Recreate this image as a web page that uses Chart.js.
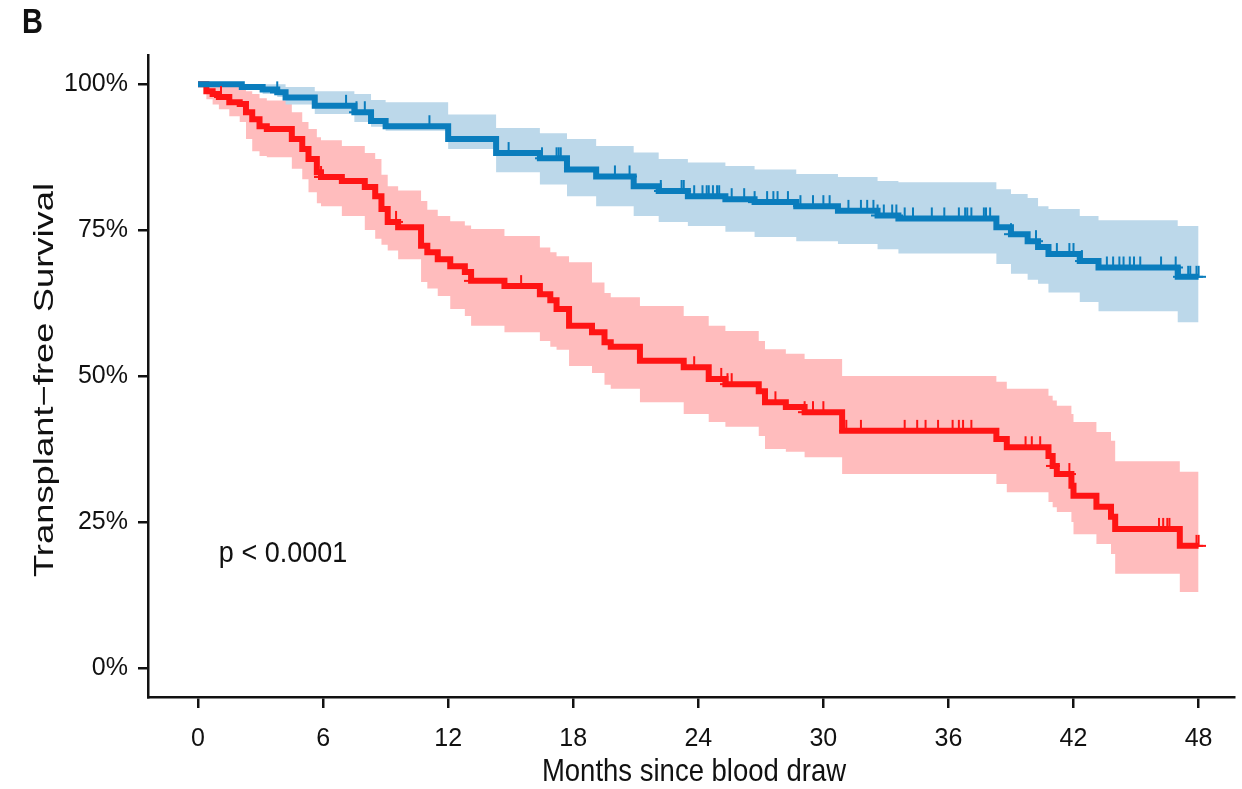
<!DOCTYPE html>
<html>
<head>
<meta charset="utf-8">
<script src="https://cdn.jsdelivr.net/npm/chart.js@4"></script>
<style>
  html, body { margin: 0; padding: 0; background: #fff; }
  #wrap { width: 1242px; height: 789px; position: relative; }
</style>
</head>
<body>
<div id="wrap"><canvas id="kmChart"></canvas></div>
<script>
// months since blood draw -> survival (%) for each group, with 95% CI
const blueTime  = [0, 2.1, 3.1, 3.8, 4.2, 5.6, 7.5, 8.3, 9.0, 12.0, 14.3, 16.4, 17.7, 19.1, 20.9, 22.1, 23.5, 25.3, 26.7, 28.7, 30.7, 32.6, 33.6, 38.3, 39.0, 39.8, 40.3, 40.8, 42.3, 43.2, 47.0, 48.0];
const blueSurv  = [100, 99.5, 99.1, 98.6, 97.7, 96.3, 95.2, 93.7, 92.8, 90.6, 88.2, 87.3, 85.4, 84.2, 82.5, 81.7, 80.8, 80.3, 79.8, 79.1, 78.3, 77.5, 77.0, 75.5, 74.3, 73.1, 72.1, 70.9, 69.7, 68.6, 67.0, 67.0];
const blueUpper = [100, 100, 100, 100, 99.5, 98.8, 98.3, 97.3, 96.9, 94.8, 92.5, 91.6, 90.6, 89.4, 88.3, 87.2, 86.6, 86.0, 85.4, 84.6, 84.1, 83.4, 83.2, 82.0, 81.2, 80.5, 79.1, 78.6, 77.4, 76.7, 75.7, 75.7];
const blueLower = [100, 99.0, 98.3, 97.8, 96.5, 94.9, 93.5, 92.7, 92.0, 88.9, 84.9, 82.8, 80.8, 79.1, 77.4, 76.4, 75.7, 74.7, 73.8, 73.1, 72.6, 71.7, 71.0, 69.2, 67.5, 66.5, 65.8, 64.3, 62.7, 61.1, 59.2, 59.2];
const blueCensor = [3.8, 7.1, 7.6, 8.0, 11.1, 14.9, 16.5, 17.2, 17.3, 17.4, 20.0, 20.7, 22.2, 23.2, 23.3, 23.8, 24.2, 24.4, 24.5, 24.7, 24.9, 25.0, 25.6, 26.2, 26.7, 27.3, 27.6, 27.8, 28.3, 28.9, 29.5, 30.0, 30.3, 31.2, 31.8, 32.1, 32.4, 32.6, 32.9, 33.3, 33.5, 33.9, 34.3, 35.2, 35.8, 36.5, 36.8, 36.9, 37.1, 37.7, 37.8, 38.0, 39.0, 40.2, 41.2, 41.8, 42.0, 42.4, 43.6, 43.9, 44.2, 44.4, 44.7, 44.9, 45.2, 46.2, 46.9, 47.1, 47.5, 47.6, 47.9, 48.0];

const redTime  = [0, 0.4, 0.7, 1.0, 1.5, 2.0, 2.3, 2.6, 2.95, 3.3, 4.5, 5.0, 5.3, 5.7, 5.9, 6.9, 8.0, 8.5, 8.8, 9.1, 9.6, 10.7, 11.0, 11.5, 12.1, 12.8, 13.1, 14.7, 16.4, 16.9, 17.2, 17.8, 18.9, 19.5, 19.8, 21.2, 23.3, 24.5, 25.3, 26.9, 27.2, 28.2, 29.1, 30.9, 38.3, 38.8, 40.8, 41.0, 41.2, 41.9, 42.0, 43.1, 43.8, 44.0, 47.1, 48.0];
const redSurv  = [100, 98.8, 98.3, 97.8, 96.9, 96.6, 95.2, 94.0, 92.8, 92.3, 90.6, 88.9, 87.2, 84.9, 84.1, 83.4, 82.4, 80.8, 78.6, 76.4, 75.5, 72.3, 71.2, 70.0, 68.8, 67.8, 66.3, 65.4, 64.0, 63.0, 61.5, 58.6, 57.5, 55.8, 55.0, 52.6, 51.5, 49.5, 48.6, 47.4, 45.5, 44.7, 43.8, 40.6, 39.2, 37.8, 36.3, 34.6, 33.2, 31.2, 29.5, 27.6, 25.9, 23.8, 20.9, 20.9];
const redUpper = [100, 100, 100, 99.7, 99.7, 99.3, 98.8, 98.3, 97.6, 97.2, 95.2, 93.5, 92.3, 90.9, 90.4, 89.4, 88.2, 87.2, 84.5, 82.5, 81.8, 80.0, 78.5, 77.4, 76.5, 75.8, 75.2, 74.0, 72.0, 71.2, 70.5, 69.5, 66.0, 64.2, 63.5, 62.0, 60.3, 58.6, 57.7, 56.0, 54.6, 53.8, 52.9, 50.0, 49.0, 47.8, 46.6, 45.8, 44.9, 43.5, 42.1, 40.4, 38.9, 35.4, 33.6, 33.6];
const redLower = [100, 97.4, 96.5, 95.7, 94.5, 93.5, 90.6, 88.5, 87.7, 87.5, 85.5, 83.7, 81.5, 79.6, 79.1, 77.4, 75.0, 73.5, 72.5, 71.5, 70.0, 66.1, 65.0, 63.7, 61.5, 60.3, 58.6, 57.5, 56.0, 55.0, 54.5, 51.7, 50.5, 48.5, 47.8, 45.5, 43.5, 42.1, 41.3, 39.7, 37.5, 37.0, 36.1, 33.2, 31.5, 30.1, 28.4, 27.5, 26.7, 25.0, 22.9, 21.2, 19.5, 16.1, 13.0, 13.0];
const redCensor = [1.1, 5.9, 9.5, 13.1, 15.5, 23.8, 25.1, 25.4, 25.6, 27.7, 29.1, 29.5, 30.0, 31.1, 31.8, 33.9, 34.5, 34.9, 35.5, 36.2, 36.5, 36.7, 37.1, 39.7, 40.0, 40.4, 41.0, 41.8, 46.1, 46.3, 46.5, 46.6, 47.9, 48.0];

const xTicks = [0, 6, 12, 18, 24, 30, 36, 42, 48];
const yTicks = [0, 25, 50, 75, 100];
const yTickLabels = ['0%', '25%', '50%', '75%', '100%'];

const panelLabel = 'B';
const pvalText = 'p < 0.0001';
const xTitle = 'Months since blood draw';
const yTitle = 'Transplant\u2212free Survival';

const BLUE = '#0a7dbd';
const BLUE_BAND = '#bcd8ea';
const RED = '#ff1414';
const RED_BAND = '#ffbcbd';

function fontExists(name) {
    const c = document.createElement('canvas').getContext('2d');
    const s = 'abcdefghij 0123456789%';
    c.font = '40px "' + name + '", monospace';
    const a = c.measureText(s).width;
    c.font = '40px monospace';
    return a !== c.measureText(s).width;
}

const narrow = fontExists('Liberation Sans Narrow');
const tickFont = narrow
    ? { family: '"Liberation Sans Narrow", "Liberation Sans", Arial, sans-serif', size: 29 }
    : { family: '"Liberation Sans", Arial, sans-serif', size: 25 };
const SANS = '"Liberation Sans", Arial, sans-serif';

// step lookup: survival value in force at time t
function survAt(times, surv, t) {
    let v = surv[0];
    for (let i = 0; i < times.length; i++) {
        if (times[i] <= t) v = surv[i];
    }
    return v;
}

const pts = (xs, ys) => xs.map((t, i) => ({ x: t, y: ys[i] }));
const censorPts = (cs, times, surv) => cs.map(t => ({ x: t, y: survAt(times, surv, t) }));

// censor mark: short upward tick plus a small horizontal bar, centred on the point
function censorMark(color) {
    const c = document.createElement('canvas');
    c.width = 14;
    c.height = 24;
    const g = c.getContext('2d');
    g.fillStyle = color;
    g.fillRect(6, 1, 2, 11);
    g.fillRect(0, 11, 14, 2);
    return c;
}

function drawText(ctx, text, px, py, font, sx, sy, align, rot) {
    ctx.save();
    ctx.translate(px, py);
    if (rot) ctx.rotate(rot);
    ctx.scale(sx, sy);
    ctx.font = font;
    ctx.textAlign = align;
    ctx.textBaseline = 'alphabetic';
    ctx.fillText(text, 0, 0);
    ctx.restore();
}

const textPlugin = {
    id: 'texts',
    afterDraw(chart) {
        const ctx = chart.ctx;
        const xs = chart.scales.x;
        const ys = chart.scales.y;
        ctx.save();
        ctx.fillStyle = '#111';
        drawText(ctx, panelLabel, 22, 33, 'bold 29px ' + SANS, 1, 1.2, 'left');
        drawText(ctx, pvalText, xs.getPixelForValue(1), ys.getPixelForValue(18.2), '27px ' + SANS, 1, 1.12, 'left');
        drawText(ctx, xTitle, (chart.chartArea.left + chart.chartArea.right) / 2 + 3, 781, '27.5px ' + SANS, 1, 1.17, 'center');
        drawText(ctx, yTitle, 53, (ys.getPixelForValue(0) + ys.getPixelForValue(100)) / 2 + 4, '28px ' + SANS, 1.3, 1, 'center', -Math.PI / 2);
        ctx.restore();
    }
};

const lineBase = { showLine: true, stepped: true, pointRadius: 0, fill: false, tension: 0 };

const ctx = document.getElementById('kmChart').getContext('2d');
const myChart = new Chart(ctx, {
    type: 'scatter',
    data: {
        datasets: [
            { label: 'blue censor', data: censorPts(blueCensor, blueTime, blueSurv), showLine: false,
              pointStyle: censorMark(BLUE), pointRadius: 7 },
            { label: 'red censor', data: censorPts(redCensor, redTime, redSurv), showLine: false,
              pointStyle: censorMark(RED), pointRadius: 7 },
            { ...lineBase, label: 'blue', data: pts(blueTime, blueSurv), borderColor: BLUE, borderWidth: 6 },
            { ...lineBase, label: 'red', data: pts(redTime, redSurv), borderColor: RED, borderWidth: 6 },
            { ...lineBase, label: 'blue upper', data: pts(blueTime, blueUpper), borderWidth: 0, borderColor: 'rgba(0,0,0,0)',
              fill: '+1', backgroundColor: BLUE_BAND },
            { ...lineBase, label: 'blue lower', data: pts(blueTime, blueLower), borderWidth: 0, borderColor: 'rgba(0,0,0,0)' },
            { ...lineBase, label: 'red upper', data: pts(redTime, redUpper), borderWidth: 0, borderColor: 'rgba(0,0,0,0)',
              fill: '+1', backgroundColor: RED_BAND },
            { ...lineBase, label: 'red lower', data: pts(redTime, redLower), borderWidth: 0, borderColor: 'rgba(0,0,0,0)' }
        ]
    },
    options: {
        responsive: true,
        maintainAspectRatio: false,
        animation: false,
        layout: { padding: { top: 55, left: 0, right: 0, bottom: 0 } },
        plugins: {
            legend: { display: false },
            tooltip: { enabled: false }
        },
        scales: {
            x: {
                type: 'linear',
                min: -2.4,
                max: 49.7,
                afterBuildTicks: scale => { scale.ticks = xTicks.map(v => ({ value: v })); },
                afterFit: scale => { scale.height = 92; },
                ticks: { color: '#111', font: tickFont, padding: 16, maxRotation: 0 },
                grid: { drawOnChartArea: false, drawTicks: true, tickLength: 11, color: '#111', lineWidth: 2.5 },
                border: { color: '#111', width: 2.5 }
            },
            y: {
                type: 'linear',
                min: -5,
                max: 105,
                afterBuildTicks: scale => { scale.ticks = yTicks.map(v => ({ value: v })); },
                afterFit: scale => { scale.width = 148; },
                ticks: {
                    color: '#111', font: tickFont, padding: 10,
                    callback: v => yTickLabels[yTicks.indexOf(v)]
                },
                grid: { drawOnChartArea: false, drawTicks: true, tickLength: 10, color: '#111', lineWidth: 2.5 },
                border: { color: '#111', width: 2.5 }
            }
        }
    },
    plugins: [textPlugin]
});
</script>
</body>
</html>
